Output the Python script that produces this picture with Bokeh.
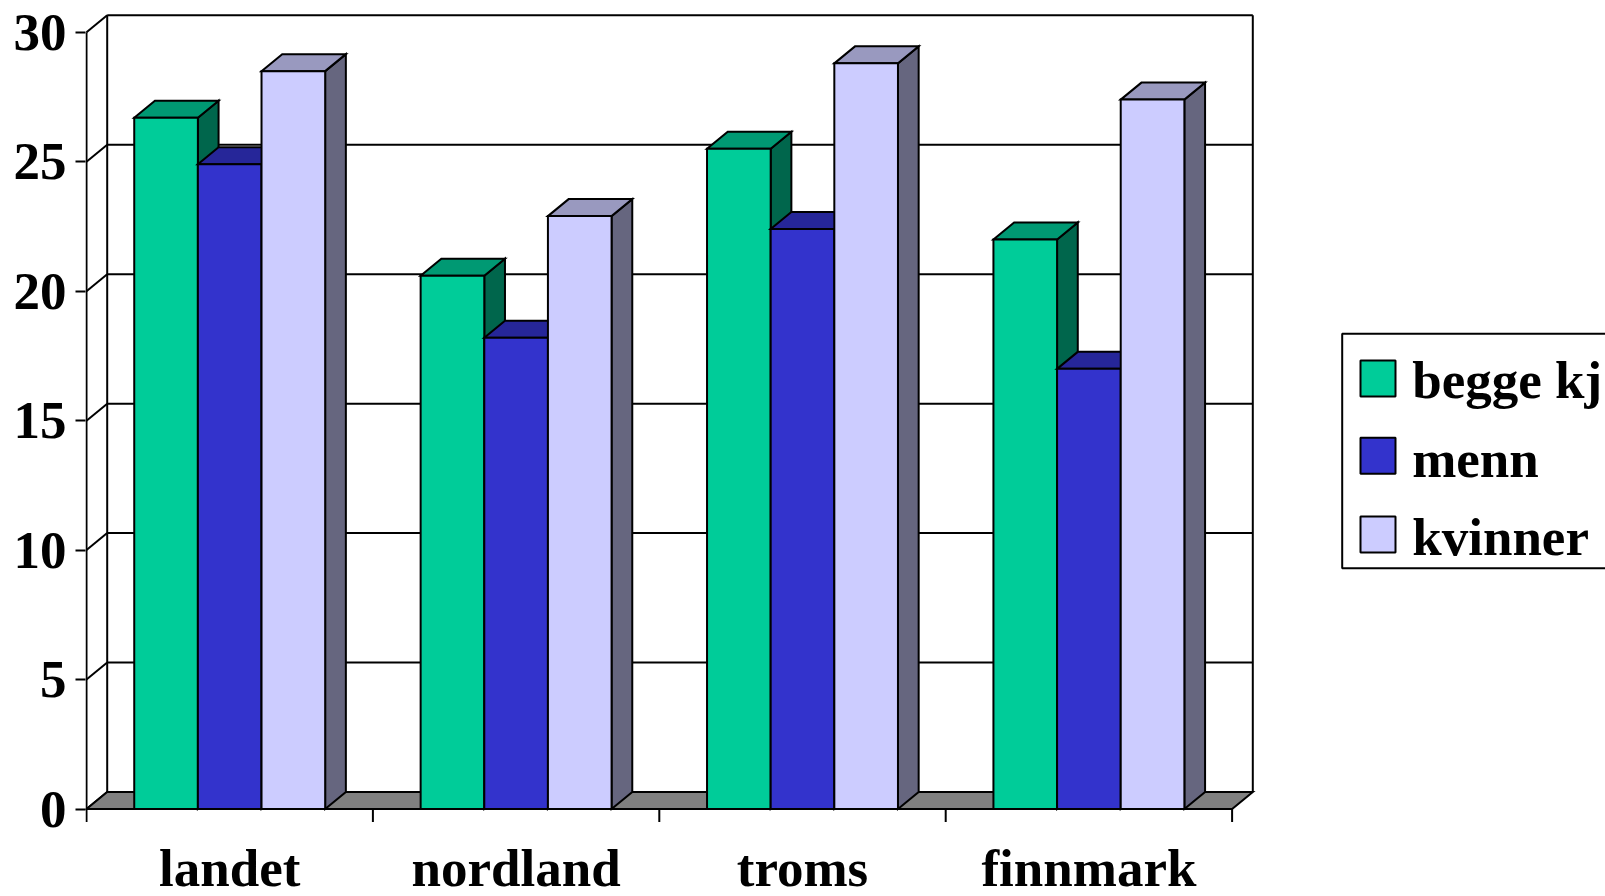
from bokeh.plotting import figure
from bokeh.models import Range1d, LinearAxis, FixedTicker
from bokeh.embed import file_html
from bokeh.resources import INLINE
from bokeh.core.properties import value

# ---------------- data ----------------
categories = ["landet", "nordland", "troms", "finnmark"]
series_labels = ["begge kj", "menn", "kvinner"]   # first label is shown truncated in the reference
begge_kjonn = [26.7, 20.6, 25.5, 22.0]
menn = [24.9, 18.2, 22.4, 17.0]
kvinner = [28.5, 22.9, 28.8, 27.4]
y_ticks = [0, 5, 10, 15, 20, 25, 30]

series_values = [begge_kjonn, menn, kvinner]

# ---------------- style ----------------
front_colors = ["#00CC99", "#3333CC", "#CCCCFF"]
top_colors = ["#009973", "#262699", "#9999BF"]
side_colors = ["#00664C", "#1A1A66", "#66667F"]
FLOOR_COLOR = "#808080"
LW = 2
FONT = "Liberation Serif"
FONT_SIZE = "53px"
TEXT_SHIFT = 17.0   # compensation of rendered alphabetic baseline

# ---------------- layout (image pixels -> data units) ----------------
W, H = 1605, 896
PX_CAT = 286.4          # pixels per category
PX_VAL = 25.89          # pixels per value unit
X0_IMG = 86.0           # image x of category position 0
Y0_IMG = 808.5          # image y of value 0
FRAME_LEFT_IMG = 85.0


def dx_img(X):
    return (X - X0_IMG) / PX_CAT


def dy_img(Y):
    return (Y0_IMG - Y) / PX_VAL


x_start = dx_img(FRAME_LEFT_IMG)
x_end = dx_img(W)
y_end = dy_img(0)
y_start = dy_img(H)

DX = 20.7 / PX_CAT
DY = 17.0 / PX_VAL
BAR_W = 1 / 4.5
GAP = 0.75 / 4.5
n_cat = len(categories)
Y_MAX = y_ticks[-1]

p = figure(width=W, height=H,
           x_range=Range1d(x_start, x_end), y_range=Range1d(y_start, y_end),
           output_backend="svg", toolbar_location=None,
           x_axis_type=None, y_axis_type=None,
           min_border_left=int(FRAME_LEFT_IMG), min_border_right=0,
           min_border_top=0, min_border_bottom=0,
           outline_line_color=None,
           background_fill_color="white", border_fill_color="white")

# ---------------- walls ----------------
nt = len(y_ticks)
p.segment(x0=[DX] * nt, y0=[t + DY for t in y_ticks],
          x1=[n_cat + DX] * nt, y1=[t + DY for t in y_ticks],
          line_color="black", line_width=LW)
p.segment(x0=[0] * nt, y0=y_ticks, x1=[DX] * nt, y1=[t + DY for t in y_ticks],
          line_color="black", line_width=LW)
p.segment(x0=[0, DX, n_cat + DX], y0=[0, DY, DY],
          x1=[0, DX, n_cat + DX], y1=[Y_MAX, Y_MAX + DY, Y_MAX + DY],
          line_color="black", line_width=LW)
p.patch([0, n_cat, n_cat + DX, DX], [0, 0, DY, DY],
        fill_color=FLOOR_COLOR, line_color="black", line_width=LW, line_join="miter")
tick_len = 13.0 / PX_VAL
p.segment(x0=list(range(n_cat + 1)), y0=[0] * (n_cat + 1),
          x1=list(range(n_cat + 1)), y1=[-tick_len] * (n_cat + 1),
          line_color="black", line_width=LW)

# ---------------- 3D bars ----------------
for j, vals in enumerate(series_values):
    lefts = [i + GAP + j * BAR_W for i in range(n_cat)]
    rights = [l + BAR_W for l in lefts]
    side_xs = [[r, r + DX, r + DX, r] for r in rights]
    side_ys = [[0, DY, v + DY, v] for v in vals]
    top_xs = [[l, r, r + DX, l + DX] for l, r in zip(lefts, rights)]
    top_ys = [[v, v, v + DY, v + DY] for v in vals]
    p.patches(side_xs, side_ys, fill_color=side_colors[j], line_color="black",
              line_width=LW, line_join="miter")
    p.patches(top_xs, top_ys, fill_color=top_colors[j], line_color="black",
              line_width=LW, line_join="miter")
    p.quad(left=lefts, right=rights, top=vals, bottom=[0] * n_cat,
           fill_color=front_colors[j], line_color="black", line_width=LW,
           line_join="miter")

# ---------------- category labels ----------------
p.text(x=[i + 0.5 for i in range(n_cat)], y=[dy_img(884 - TEXT_SHIFT)] * n_cat,
       text=categories,
       text_align="center", text_baseline="alphabetic",
       text_font=value(FONT), text_font_style="bold", text_font_size=FONT_SIZE,
       text_color="black")

# ---------------- y axis ----------------
yaxis = LinearAxis(ticker=FixedTicker(ticks=y_ticks),
                   axis_line_color=None,
                   major_tick_in=0, major_tick_out=10,
                   major_tick_line_width=LW, major_tick_line_color="black",
                   minor_tick_line_color=None,
                   major_label_standoff=9,
                   major_label_text_font=FONT,
                   major_label_text_font_style="bold",
                   major_label_text_font_size=FONT_SIZE,
                   major_label_text_color="black")
p.add_layout(yaxis, "left")

# ---------------- legend ----------------
p.quad(left=[dx_img(1341.7)], right=[x_end + 1], top=[dy_img(333.3)], bottom=[dy_img(567.7)],
       fill_color="white", line_color="black", line_width=LW)
sw_tops = [360, 437.3, 516]
baselines = [396.7, 475, 553.3]
p.quad(left=[dx_img(1360)] * 3, right=[dx_img(1395)] * 3,
       top=[dy_img(t) for t in sw_tops], bottom=[dy_img(t + 36) for t in sw_tops],
       fill_color=front_colors, line_color="black", line_width=LW)
p.text(x=[dx_img(1411.7)] * 3, y=[dy_img(b - TEXT_SHIFT) for b in baselines],
       text=series_labels,
       text_align="left", text_baseline="alphabetic",
       text_font=value(FONT), text_font_style="bold", text_font_size=FONT_SIZE,
       text_color="black")

open("out.html", "w").write(file_html(p, INLINE))
